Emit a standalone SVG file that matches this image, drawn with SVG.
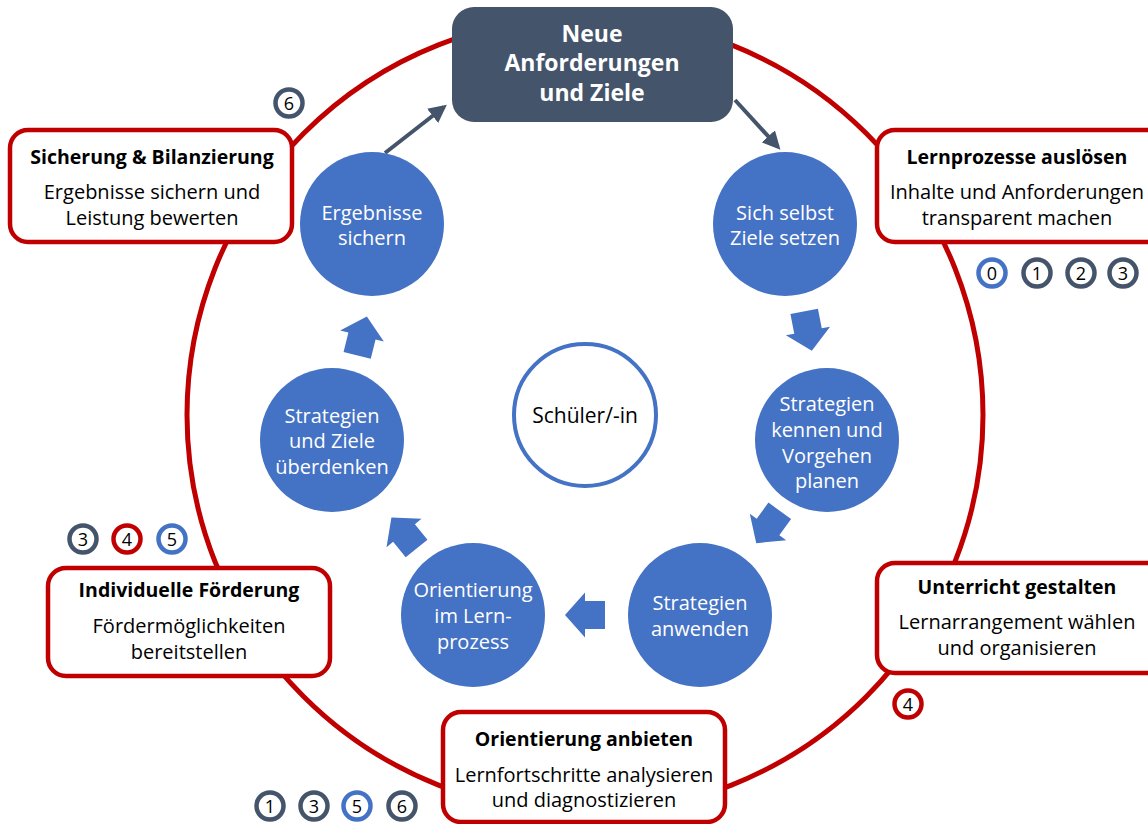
<svg xmlns="http://www.w3.org/2000/svg" xmlns:xlink="http://www.w3.org/1999/xlink" width="1148" height="824" viewBox="0 0 1148 824">
<style>
text{font-family:"Open Sans","Noto Sans","Liberation Sans",sans-serif;text-anchor:middle}
.ring{fill:none;stroke:#C00000;stroke-width:5}
.rbox{fill:#fff;stroke:#C00000;stroke-width:4.5}
.ttl{font-size:19.5px;font-weight:bold;fill:#000}
.sub{font-size:20px;fill:#000}
.node{fill:#4472C4}
.ntx{font-size:20px;fill:#fff}
.top{fill:#44546A}
.ttx{font-size:23px;font-weight:bold;fill:#fff}
.conn{stroke:#44546A;stroke-width:4;fill:none}
.blk{fill:#4472C4}
.bd{fill:#fff;stroke-width:4.5}
.bdD{stroke:#44546A}.bdR{stroke:#C00000}.bdB{stroke:#4472C4}
.btx{font-size:18px;fill:#000}
</style>
<defs>
<path id="blk" d="M-20,-14 L0,-14 L0,-22.5 L20,0 L0,22.5 L0,14 L-20,14 Z"/>
<marker id="ah" viewBox="0 0 10 10" refX="8" refY="5" markerWidth="4.5" markerHeight="4.5" orient="auto" markerUnits="strokeWidth">
<path d="M0,0 L10,5 L0,10 Z" fill="#44546A"/>
</marker>
</defs>
<circle class="ring" cx="585" cy="415" r="398"/>
<g id="connectors">
<line class="conn" x1="385" y1="153" x2="444" y2="107" marker-end="url(#ah)"/>
<line class="conn" x1="735" y1="100" x2="778" y2="147" marker-end="url(#ah)"/>
<use href="#blk" class="blk" transform="translate(808,331) rotate(79)"/>
<use href="#blk" class="blk" transform="translate(768,527) rotate(126)"/>
<use href="#blk" class="blk" transform="translate(585,615) rotate(180)"/>
<use href="#blk" class="blk" transform="translate(404,533) rotate(231)"/>
<use href="#blk" class="blk" transform="translate(362,336) rotate(-76)"/>
</g>
<g id="top">
<rect class="top" x="452" y="7" width="281" height="115" rx="22"/>
<text class="ttx" x="592" y="42">Neue</text>
<text class="ttx" x="592" y="71">Anforderungen</text>
<text class="ttx" x="592" y="101">und Ziele</text>
</g>
<g id="box-sicherung">
<rect class="rbox" x="10" y="130" width="282" height="112" rx="18"/>
<text class="ttl" x="152" y="164">Sicherung &amp; Bilanzierung</text>
<text class="sub" x="152" y="199">Ergebnisse sichern und</text>
<text class="sub" x="152" y="225">Leistung bewerten</text>
</g>
<g id="box-lernprozesse">
<rect class="rbox" x="877" y="130" width="290" height="112" rx="18"/>
<text class="ttl" x="1017" y="164">Lernprozesse auslösen</text>
<text class="sub" x="1017" y="199">Inhalte und Anforderungen</text>
<text class="sub" x="1017" y="225">transparent machen</text>
</g>
<g id="box-unterricht">
<rect class="rbox" x="877" y="563" width="290" height="110" rx="18"/>
<text class="ttl" x="1017" y="594">Unterricht gestalten</text>
<text class="sub" x="1017" y="629">Lernarrangement wählen</text>
<text class="sub" x="1017" y="655">und organisieren</text>
</g>
<g id="box-orientierung">
<rect class="rbox" x="443" y="712" width="282" height="110" rx="18"/>
<text class="ttl" x="584" y="746">Orientierung anbieten</text>
<text class="sub" x="584" y="782">Lernfortschritte analysieren</text>
<text class="sub" x="584" y="807">und diagnostizieren</text>
</g>
<g id="box-foerderung">
<rect class="rbox" x="48" y="568" width="282" height="108" rx="18"/>
<text class="ttl" x="189" y="597">Individuelle Förderung</text>
<text class="sub" x="189" y="633">Fördermöglichkeiten</text>
<text class="sub" x="189" y="659">bereitstellen</text>
</g>
<g id="n-ergebnisse">
<circle class="node" cx="372" cy="224" r="72"/>
<text class="ntx" x="372" y="220">Ergebnisse</text>
<text class="ntx" x="372" y="245">sichern</text>
</g>
<g id="n-ziele">
<circle class="node" cx="785" cy="224" r="72"/>
<text class="ntx" x="785" y="220">Sich selbst</text>
<text class="ntx" x="785" y="245">Ziele setzen</text>
</g>
<g id="n-kennen">
<circle class="node" cx="827" cy="440" r="72"/>
<text class="ntx" x="827" y="411">Strategien</text>
<text class="ntx" x="827" y="437">kennen und</text>
<text class="ntx" x="827" y="463">Vorgehen</text>
<text class="ntx" x="827" y="488">planen</text>
</g>
<g id="n-anwenden">
<circle class="node" cx="700" cy="615" r="72"/>
<text class="ntx" x="700" y="610">Strategien</text>
<text class="ntx" x="700" y="636">anwenden</text>
</g>
<g id="n-orientierung">
<circle class="node" cx="473" cy="615" r="72"/>
<text class="ntx" x="473" y="597">Orientierung</text>
<text class="ntx" x="473" y="623">im Lern-</text>
<text class="ntx" x="473" y="649">prozess</text>
</g>
<g id="n-ueberdenken">
<circle class="node" cx="332" cy="440" r="72"/>
<text class="ntx" x="332" y="423">Strategien</text>
<text class="ntx" x="332" y="448">und Ziele</text>
<text class="ntx" x="332" y="474">überdenken</text>
</g>
<g id="n-schueler">
<circle cx="585" cy="415" r="71" fill="#fff" stroke="#4472C4" stroke-width="4"/>
<text class="sub" x="585" y="423" style="font-size:21px">Schüler/-in</text>
</g>
<g id="badges">
<circle class="bd bdD" cx="289" cy="103" r="13.5"/><text class="btx" x="289" y="109.5">6</text>
<circle class="bd bdB" cx="992" cy="273" r="13.5"/><text class="btx" x="992" y="279.5">0</text>
<circle class="bd bdD" cx="1037" cy="273" r="13.5"/><text class="btx" x="1037" y="279.5">1</text>
<circle class="bd bdD" cx="1081" cy="273" r="13.5"/><text class="btx" x="1081" y="279.5">2</text>
<circle class="bd bdD" cx="1123" cy="273" r="13.5"/><text class="btx" x="1123" y="279.5">3</text>
<circle class="bd bdD" cx="83" cy="539" r="13.5"/><text class="btx" x="83" y="545.5">3</text>
<circle class="bd bdR" cx="127" cy="539" r="13.5"/><text class="btx" x="127" y="545.5">4</text>
<circle class="bd bdB" cx="172" cy="539" r="13.5"/><text class="btx" x="172" y="545.5">5</text>
<circle class="bd bdR" cx="908" cy="704" r="13.5"/><text class="btx" x="908" y="710.5">4</text>
<circle class="bd bdD" cx="270" cy="806" r="13.5"/><text class="btx" x="270" y="812.5">1</text>
<circle class="bd bdD" cx="314" cy="806" r="13.5"/><text class="btx" x="314" y="812.5">3</text>
<circle class="bd bdB" cx="357" cy="806" r="13.5"/><text class="btx" x="357" y="812.5">5</text>
<circle class="bd bdD" cx="402" cy="806" r="13.5"/><text class="btx" x="402" y="812.5">6</text>
</g>
</svg>
